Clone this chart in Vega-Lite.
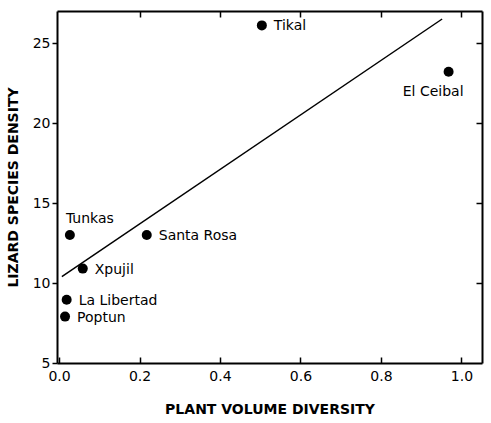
{
  "$schema": "https://vega.github.io/schema/vega-lite/v6.json",
  "width": 425,
  "height": 352,
  "autosize": {"type": "none"},
  "padding": {"left": 57, "top": 11, "right": 9, "bottom": 60},
  "background": "white",
  "config": {
    "view": {"stroke": null},
    "axis": {"grid": false, "domainColor": "black", "domainWidth": 2, "tickColor": "black", "tickWidth": 1.5, "labelColor": "black", "labelFont": "DejaVu Sans", "labelFontSize": 14, "titleFont": "DejaVu Sans", "titleFontSize": 14, "titleFontWeight": "bold", "titleColor": "black"}
  },
  "datasets": {
    "sites": [
      {"site": "Tikal", "pvd": 0.504, "lsd": 26.1},
      {"site": "El Ceibal", "pvd": 0.968, "lsd": 23.2},
      {"site": "Tunkas", "pvd": 0.027, "lsd": 13.0},
      {"site": "Santa Rosa", "pvd": 0.218, "lsd": 13.0},
      {"site": "Xpujil", "pvd": 0.059, "lsd": 10.9},
      {"site": "La Libertad", "pvd": 0.019, "lsd": 8.95},
      {"site": "Poptun", "pvd": 0.015, "lsd": 7.9}
    ],
    "fit": [
      {"pvd": 0.007, "lsd": 10.4},
      {"pvd": 0.952, "lsd": 26.5}
    ]
  },
  "resolve": {"axis": {"x": "independent", "y": "independent"}},
  "layer": [
    {
      "data": {"name": "sites"},
      "mark": {"type": "point", "filled": true, "color": "black", "size": 100, "opacity": 1, "shape": "circle"},
      "encoding": {
        "x": {"field": "pvd", "type": "quantitative", "scale": {"domain": [-0.005, 1.051], "nice": false, "zero": false},
          "axis": {"orient": "bottom", "values": [0, 0.2, 0.4, 0.6, 0.8, 1.0], "format": ".1f", "tickSize": -6, "labelPadding": 12, "title": "PLANT VOLUME DIVERSITY", "titlePadding": 19}},
        "y": {"field": "lsd", "type": "quantitative", "scale": {"domain": [5, 27], "nice": false, "zero": false},
          "axis": {"orient": "left", "values": [5, 10, 15, 20, 25], "tickSize": 5, "labelPadding": 2, "title": "LIZARD SPECIES DENSITY", "titlePadding": 12}}
      }
    },
    {
      "data": {"name": "fit"},
      "mark": {"type": "line", "color": "black", "strokeWidth": 1.5},
      "encoding": {
        "x": {"field": "pvd", "type": "quantitative", "axis": {"orient": "top", "values": [0.2, 0.4, 0.6, 0.8, 1.0], "labels": false, "tickSize": -6, "title": null}},
        "y": {"field": "lsd", "type": "quantitative", "axis": {"orient": "right", "values": [10, 15, 20, 25], "labels": false, "tickSize": -6, "title": null}}
      }
    },
    {
      "data": {"name": "sites"},
      "transform": [{"filter": "datum.site != 'Tunkas' && datum.site != 'El Ceibal'"}],
      "mark": {"type": "text", "align": "left", "baseline": "middle", "dx": 12, "dy": 1, "font": "DejaVu Sans", "fontSize": 14, "color": "black"},
      "encoding": {
        "x": {"field": "pvd", "type": "quantitative", "axis": null},
        "y": {"field": "lsd", "type": "quantitative", "axis": null},
        "text": {"field": "site"}
      }
    },
    {
      "data": {"name": "sites"},
      "transform": [{"filter": "datum.site == 'Tunkas'"}],
      "mark": {"type": "text", "align": "left", "baseline": "middle", "dx": -4, "dy": -16, "font": "DejaVu Sans", "fontSize": 14, "color": "black"},
      "encoding": {
        "x": {"field": "pvd", "type": "quantitative", "axis": null},
        "y": {"field": "lsd", "type": "quantitative", "axis": null},
        "text": {"field": "site"}
      }
    },
    {
      "data": {"name": "sites"},
      "transform": [{"filter": "datum.site == 'El Ceibal'"}],
      "mark": {"type": "text", "align": "right", "baseline": "middle", "dx": 15, "dy": 20, "font": "DejaVu Sans", "fontSize": 14, "color": "black"},
      "encoding": {
        "x": {"field": "pvd", "type": "quantitative", "axis": null},
        "y": {"field": "lsd", "type": "quantitative", "axis": null},
        "text": {"field": "site"}
      }
    }
  ]
}
